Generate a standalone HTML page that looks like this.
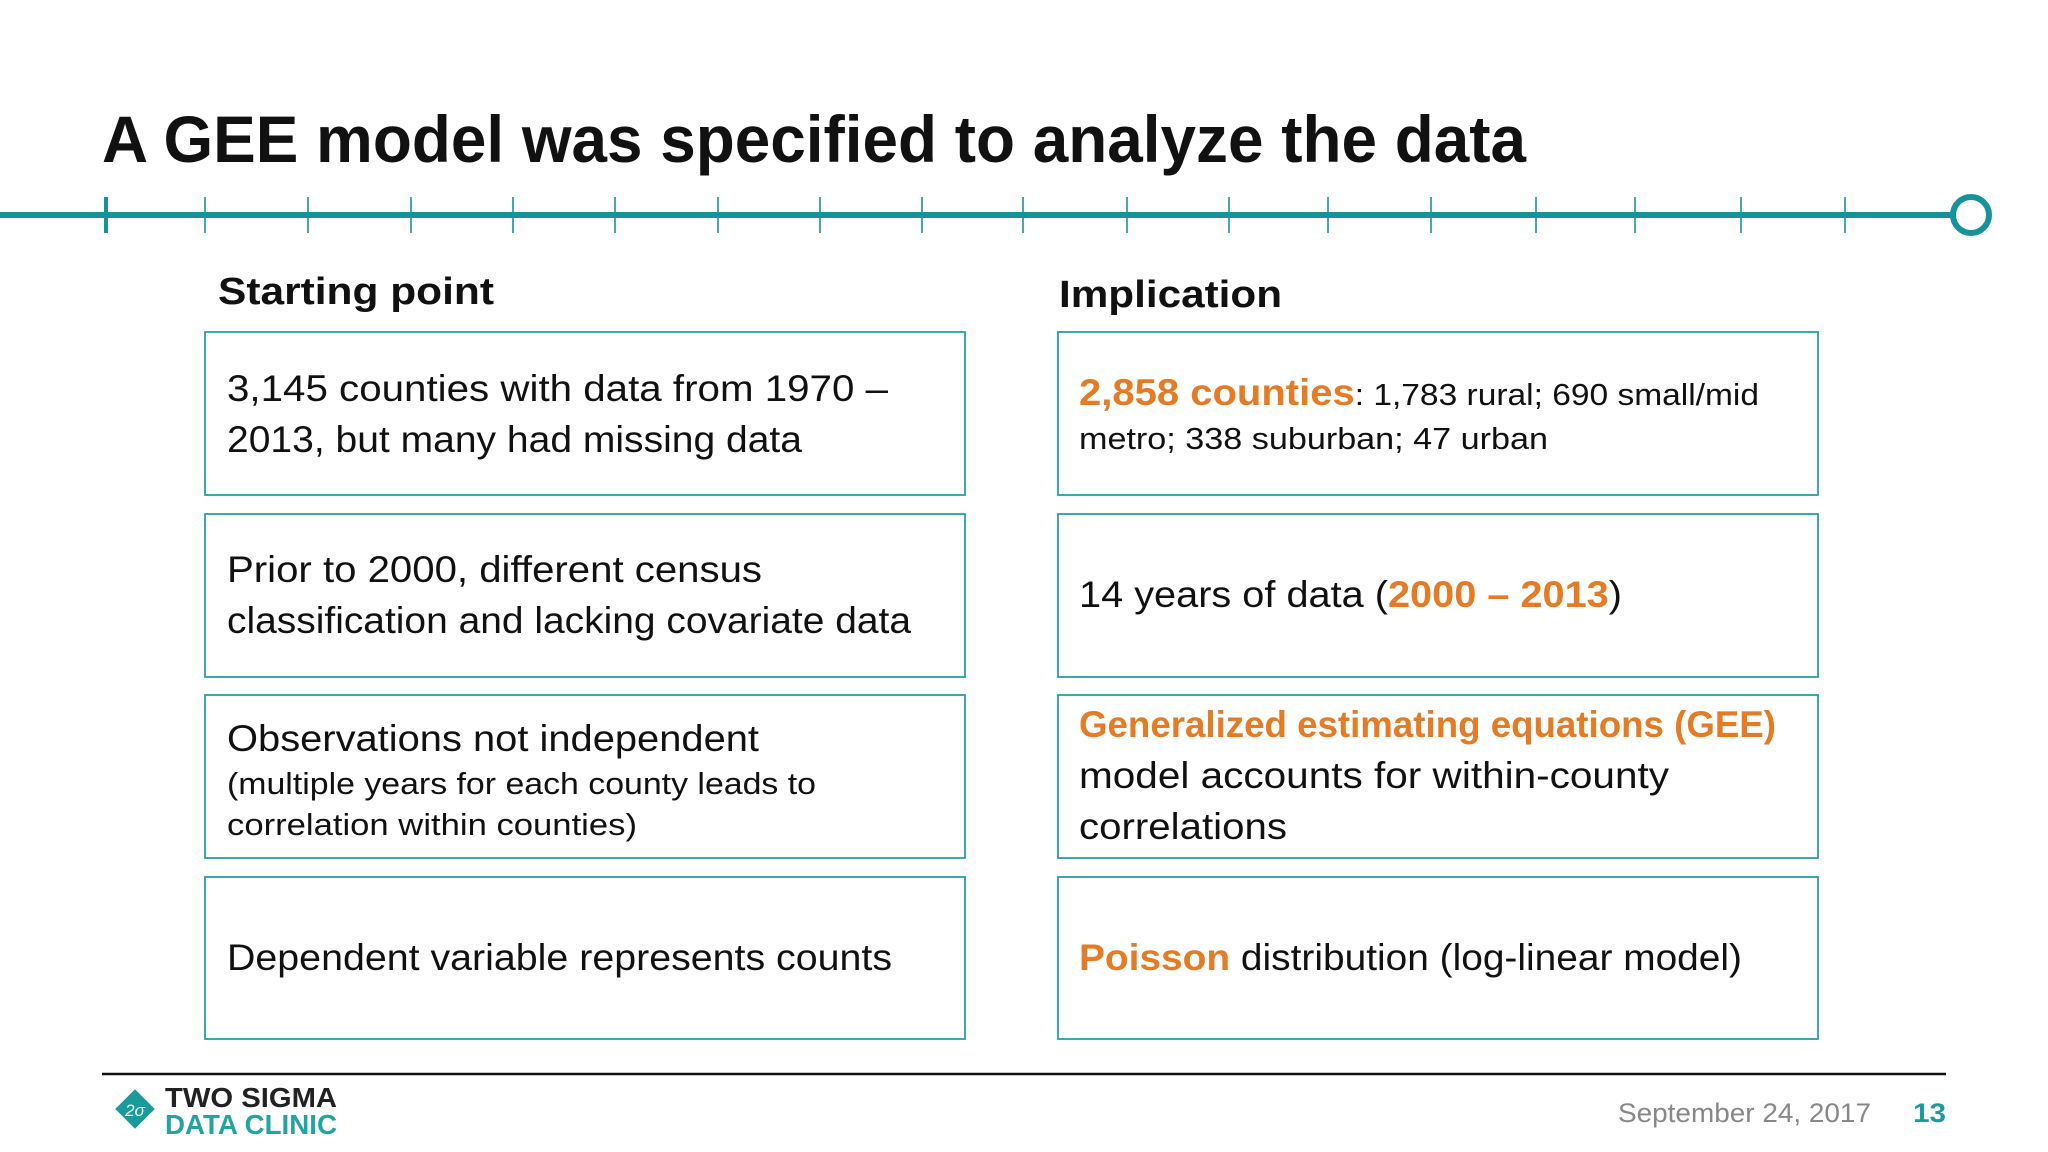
<!DOCTYPE html>
<html><head><meta charset="utf-8"><style>
html,body{margin:0;padding:0;background:#fff;}
svg{display:block;font-family:"Liberation Sans",sans-serif;}
</style></head><body>
<svg width="2048" height="1152" viewBox="0 0 2048 1152">
<rect width="2048" height="1152" fill="#fff"/>
<text x="102" y="162" font-size="66" font-weight="bold" fill="#111" textLength="1424" lengthAdjust="spacingAndGlyphs">A GEE model was specified to analyze the data</text>
<g>
<line x1="0" y1="215" x2="1952" y2="215" stroke="#16939a" stroke-width="6"/>
<g id="ticks" stroke="#16939a" stroke-width="1.6"></g>
<line x1="106" y1="197" x2="106" y2="233" stroke="#16939a" stroke-width="4"/>
<circle cx="1971" cy="215" r="18" fill="#fff" stroke="#16939a" stroke-width="6"/>
</g>
<text x="218" y="304" font-size="38" font-weight="bold" fill="#111" textLength="276" lengthAdjust="spacingAndGlyphs">Starting point</text>
<text x="1059" y="307" font-size="38" font-weight="bold" fill="#111" textLength="223" lengthAdjust="spacingAndGlyphs">Implication</text>
<g fill="none" stroke="#2a9fa3" stroke-width="1.8">
<rect x="205" y="332" width="760" height="163"/>
<rect x="205" y="514" width="760" height="163"/>
<rect x="205" y="695" width="760" height="163"/>
<rect x="205" y="877" width="760" height="162"/>
<rect x="1058" y="332" width="760" height="163"/>
<rect x="1058" y="514" width="760" height="163"/>
<rect x="1058" y="695" width="760" height="163"/>
<rect x="1058" y="877" width="760" height="162"/>
</g>
<g fill="#111" font-size="37">
<text x="227" y="401" textLength="661" lengthAdjust="spacingAndGlyphs">3,145 counties with data from 1970 –</text>
<text x="227" y="452" textLength="575" lengthAdjust="spacingAndGlyphs">2013, but many had missing data</text>
<text x="227" y="582" textLength="535" lengthAdjust="spacingAndGlyphs">Prior to 2000, different census</text>
<text x="227" y="633" textLength="684" lengthAdjust="spacingAndGlyphs">classification and lacking covariate data</text>
<text x="227" y="751" textLength="532" lengthAdjust="spacingAndGlyphs">Observations not independent</text>
<text x="227" y="794" font-size="31" textLength="589" lengthAdjust="spacingAndGlyphs">(multiple years for each county leads to</text>
<text x="227" y="835" font-size="31" textLength="410" lengthAdjust="spacingAndGlyphs">correlation within counties)</text>
<text x="227" y="970" textLength="665" lengthAdjust="spacingAndGlyphs">Dependent variable represents counts</text>

<text x="1079" y="405" font-size="31" textLength="680" lengthAdjust="spacingAndGlyphs"><tspan fill="#e57b24" font-weight="bold" font-size="37">2,858 counties</tspan>: 1,783 rural; 690 small/mid</text>
<text x="1079" y="449" font-size="31" textLength="469" lengthAdjust="spacingAndGlyphs">metro; 338 suburban; 47 urban</text>
<text x="1079" y="607" textLength="543" lengthAdjust="spacingAndGlyphs">14 years of data (<tspan fill="#e57b24" font-weight="bold">2000 – 2013</tspan>)</text>
<text x="1079" y="737" fill="#e57b24" font-weight="bold" textLength="697" lengthAdjust="spacingAndGlyphs">Generalized estimating equations (GEE)</text>
<text x="1079" y="788" textLength="590" lengthAdjust="spacingAndGlyphs">model accounts for within-county</text>
<text x="1079" y="839" textLength="208" lengthAdjust="spacingAndGlyphs">correlations</text>
<text x="1079" y="970" textLength="663" lengthAdjust="spacingAndGlyphs"><tspan fill="#e57b24" font-weight="bold">Poisson</tspan> distribution (log-linear model)</text>
</g>
<line x1="102" y1="1074" x2="1946" y2="1074" stroke="#111" stroke-width="2.5"/>
<g>
<rect x="121" y="1095" width="28" height="28" fill="#1b9a9c" transform="rotate(45 135 1109)"/>
<text x="135" y="1116" font-size="17" fill="#fff" text-anchor="middle" font-style="italic">2σ</text>
<text x="165" y="1107" font-size="28" font-weight="bold" fill="#222" textLength="172" lengthAdjust="spacingAndGlyphs">TWO SIGMA</text>
<text x="165" y="1134" font-size="28" font-weight="bold" fill="#23a3a1" textLength="172" lengthAdjust="spacingAndGlyphs">DATA CLINIC</text>
</g>
<text x="1618" y="1122" font-size="27" fill="#888" textLength="253" lengthAdjust="spacingAndGlyphs">September 24, 2017</text>
<text x="1913" y="1122" font-size="27" font-weight="bold" fill="#1b9aa0" textLength="33" lengthAdjust="spacingAndGlyphs">13</text>
</svg>
<script>
const tickX=[205,308,411,513,615,718,820,922,1023,1127,1229,1328,1431,1536,1635,1741,1845];
const g=document.getElementById('ticks');
tickX.forEach(x=>{
  const l=document.createElementNS('http://www.w3.org/2000/svg','line');
  
  
  l.setAttribute('x1',x);l.setAttribute('x2',x);l.setAttribute('y1',197);l.setAttribute('y2',233);
  g.appendChild(l);
});
</script>
</body></html>
